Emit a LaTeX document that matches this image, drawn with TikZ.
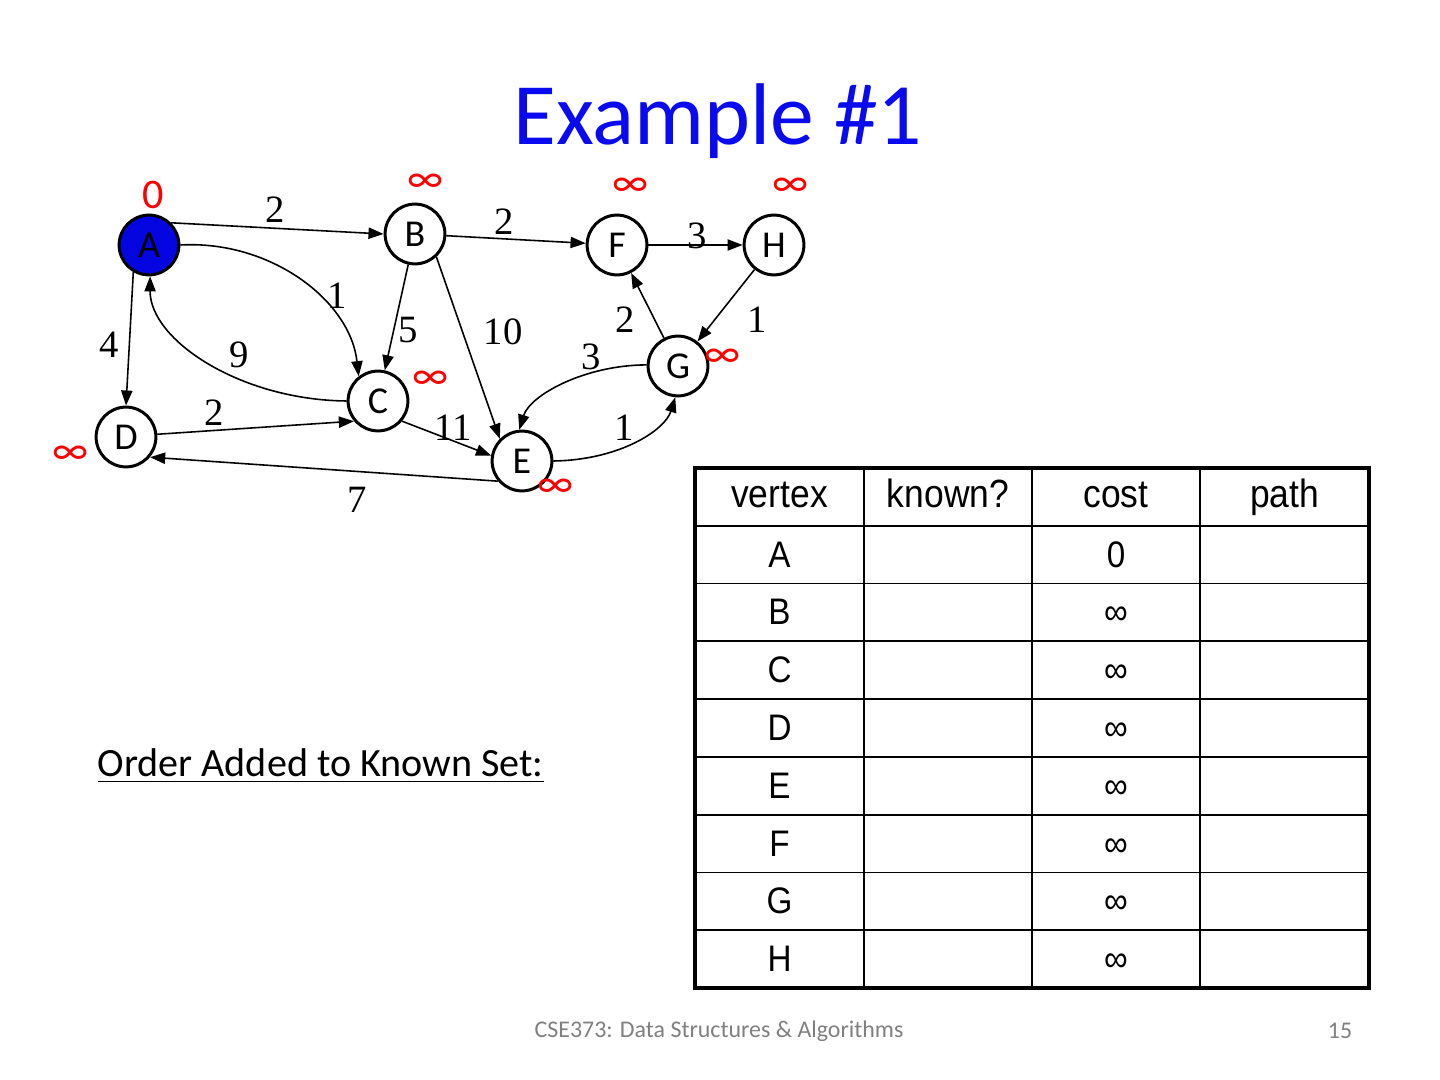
\documentclass[tikz,border=0pt]{standalone}
\usepackage{fontspec}
\setmainfont{Carlito}
\newfontfamily\wtfont{Liberation Serif}
\newfontfamily\tabfont[FakeStretch=0.9]{Liberation Sans}
\usetikzlibrary{arrows.meta}
\definecolor{titleblue}{RGB}{10,10,240}
\definecolor{nodeblue}{RGB}{5,5,225}

\begin{document}
\begin{tikzpicture}[x=0.01cm, y=-0.01cm,
    vtx/.style={circle, draw=black, line width=0.85pt, fill=white, minimum size=17pt, inner sep=0pt, font=\fontsize{10.8}{12}\selectfont},
    wt/.style={font=\wtfont\fontsize{11}{12}\selectfont},
    unk/.style={text=red, font=\fontsize{12}{13}\selectfont},
    link/.style={line width=0.45pt, -{Triangle[length=4.3pt, width=3.2pt]}},
    head/.style={font=\tabfont\fontsize{11.2}{13}\selectfont, text height=8.5pt, text depth=2.5pt},
    cell/.style={font=\tabfont\fontsize{10.5}{12}\selectfont, text height=8pt, text depth=2pt}]

    \useasboundingbox[fill=white] (0,0) rectangle (1440,1080);

    % Titolo
    \node[text=titleblue, font=\fontsize{24.9}{30}\selectfont] (title) at (718,121) {Example \#1};

    % Vertici
    \node[vtx, fill=nodeblue] (A) at (149,245) {A};
    \node[vtx] (B) at (415,234) {B};
    \node[vtx] (F) at (617,245) {F};
    \node[vtx] (H) at (774,245) {H};
    \node[vtx] (G) at (678,366) {G};
    \node[vtx] (C) at (378,401) {C};
    \node[vtx] (D) at (126,437) {D};
    \node[vtx] (E) at (522,461) {E};

    % Costi iniziali
    \node[unk] (kA) at (153,195) {0};
    \foreach \n/\x/\y in {B/425/183, F/630/187, H/790/187, G/722/358, C/430/380, D/70/455, E/555/488} {
      \node[unk] (k\n) at (\x,\y) {∞};
    }

    % Archi
    \draw[link] (A.45) -- (B.west);
    \draw[link] (B) -- (F);
    \draw[link] (F) -- (H);
    \draw[link] (B) -- (C);
    \draw[link] (B.-47) -- (E.135);
    \draw[link] (A.-120) -- (D.north);
    \draw[link] (H) -- (G);
    \draw[link] (G) -- (F);
    \draw[link] (D.5) -- (C.-140);
    \draw[link] (C.-40) -- (E.170);
    \draw[link] (E.-140) -- (D.-40);
    \draw[link] (A.0) .. controls (270,240) and (350,300) .. (C.128);
    \draw[link] (C.180) .. controls (240,400) and (150,340) .. (A.-88);
    \draw[link] (G.178) .. controls (585,365) and (530,395) .. (E.95);
    \draw[link] (E.0) .. controls (620,460) and (665,430) .. (G.-95);

    % Pesi
    \foreach \x/\y/\w [count=\i] in {275/210/2, 504/222/2, 697/236/3, 337/296/1, 408/330/5,
        503/332/10, 239/355/9, 109/345/4, 757/320/1, 625/320/2, 591/357/3, 624/428/1,
        214/413/2, 453/428/11, 357/500/7} {
      \node[wt] (w\i) at (\x,\y) {\w};
    }

    % Tabella
    \foreach \r in {1,...,8} {
      \draw[line width=0.5pt] (695,{468+57.78*\r}) -- (1369,{468+57.78*\r});
    }
    \foreach \x in {864,1032,1200} {
      \draw[line width=0.5pt] (\x,468) -- (\x,988);
    }
    \draw[line width=0.9pt] (695,468) rectangle (1369,988);
    \foreach \x/\t [count=\i] in {779.5/vertex, 948/known?, 1116/cost, 1284.5/path} {
      \node[head] (h\i) at (\x,497) {\t};
    }
    \foreach \v/\c [count=\i] in {A/0, B/∞, C/∞, D/∞, E/∞, F/∞, G/∞, H/∞} {
      \node[cell] (v\v) at (779.5,{470+57.78*(\i+0.5)}) {\v};
      \node[cell] (c\v) at (1116,{470+57.78*(\i+0.5)}) {\c};
    }

    % Insieme dei nodi noti
    \node[anchor=west, inner sep=0pt, font=\fontsize{11.4}{13}\selectfont] (order) at (97,766) {\underline{Order Added to Known Set:}};

    % Piede
    \node[text=gray, font=\fontsize{6.8}{8}\selectfont] (foot) at (719,1031) {CSE373: Data Structures \& Algorithms};
    \node[text=gray, font=\fontsize{6.8}{8}\selectfont] (page) at (1340,1031) {15};
  \end{tikzpicture}
\end{document}
